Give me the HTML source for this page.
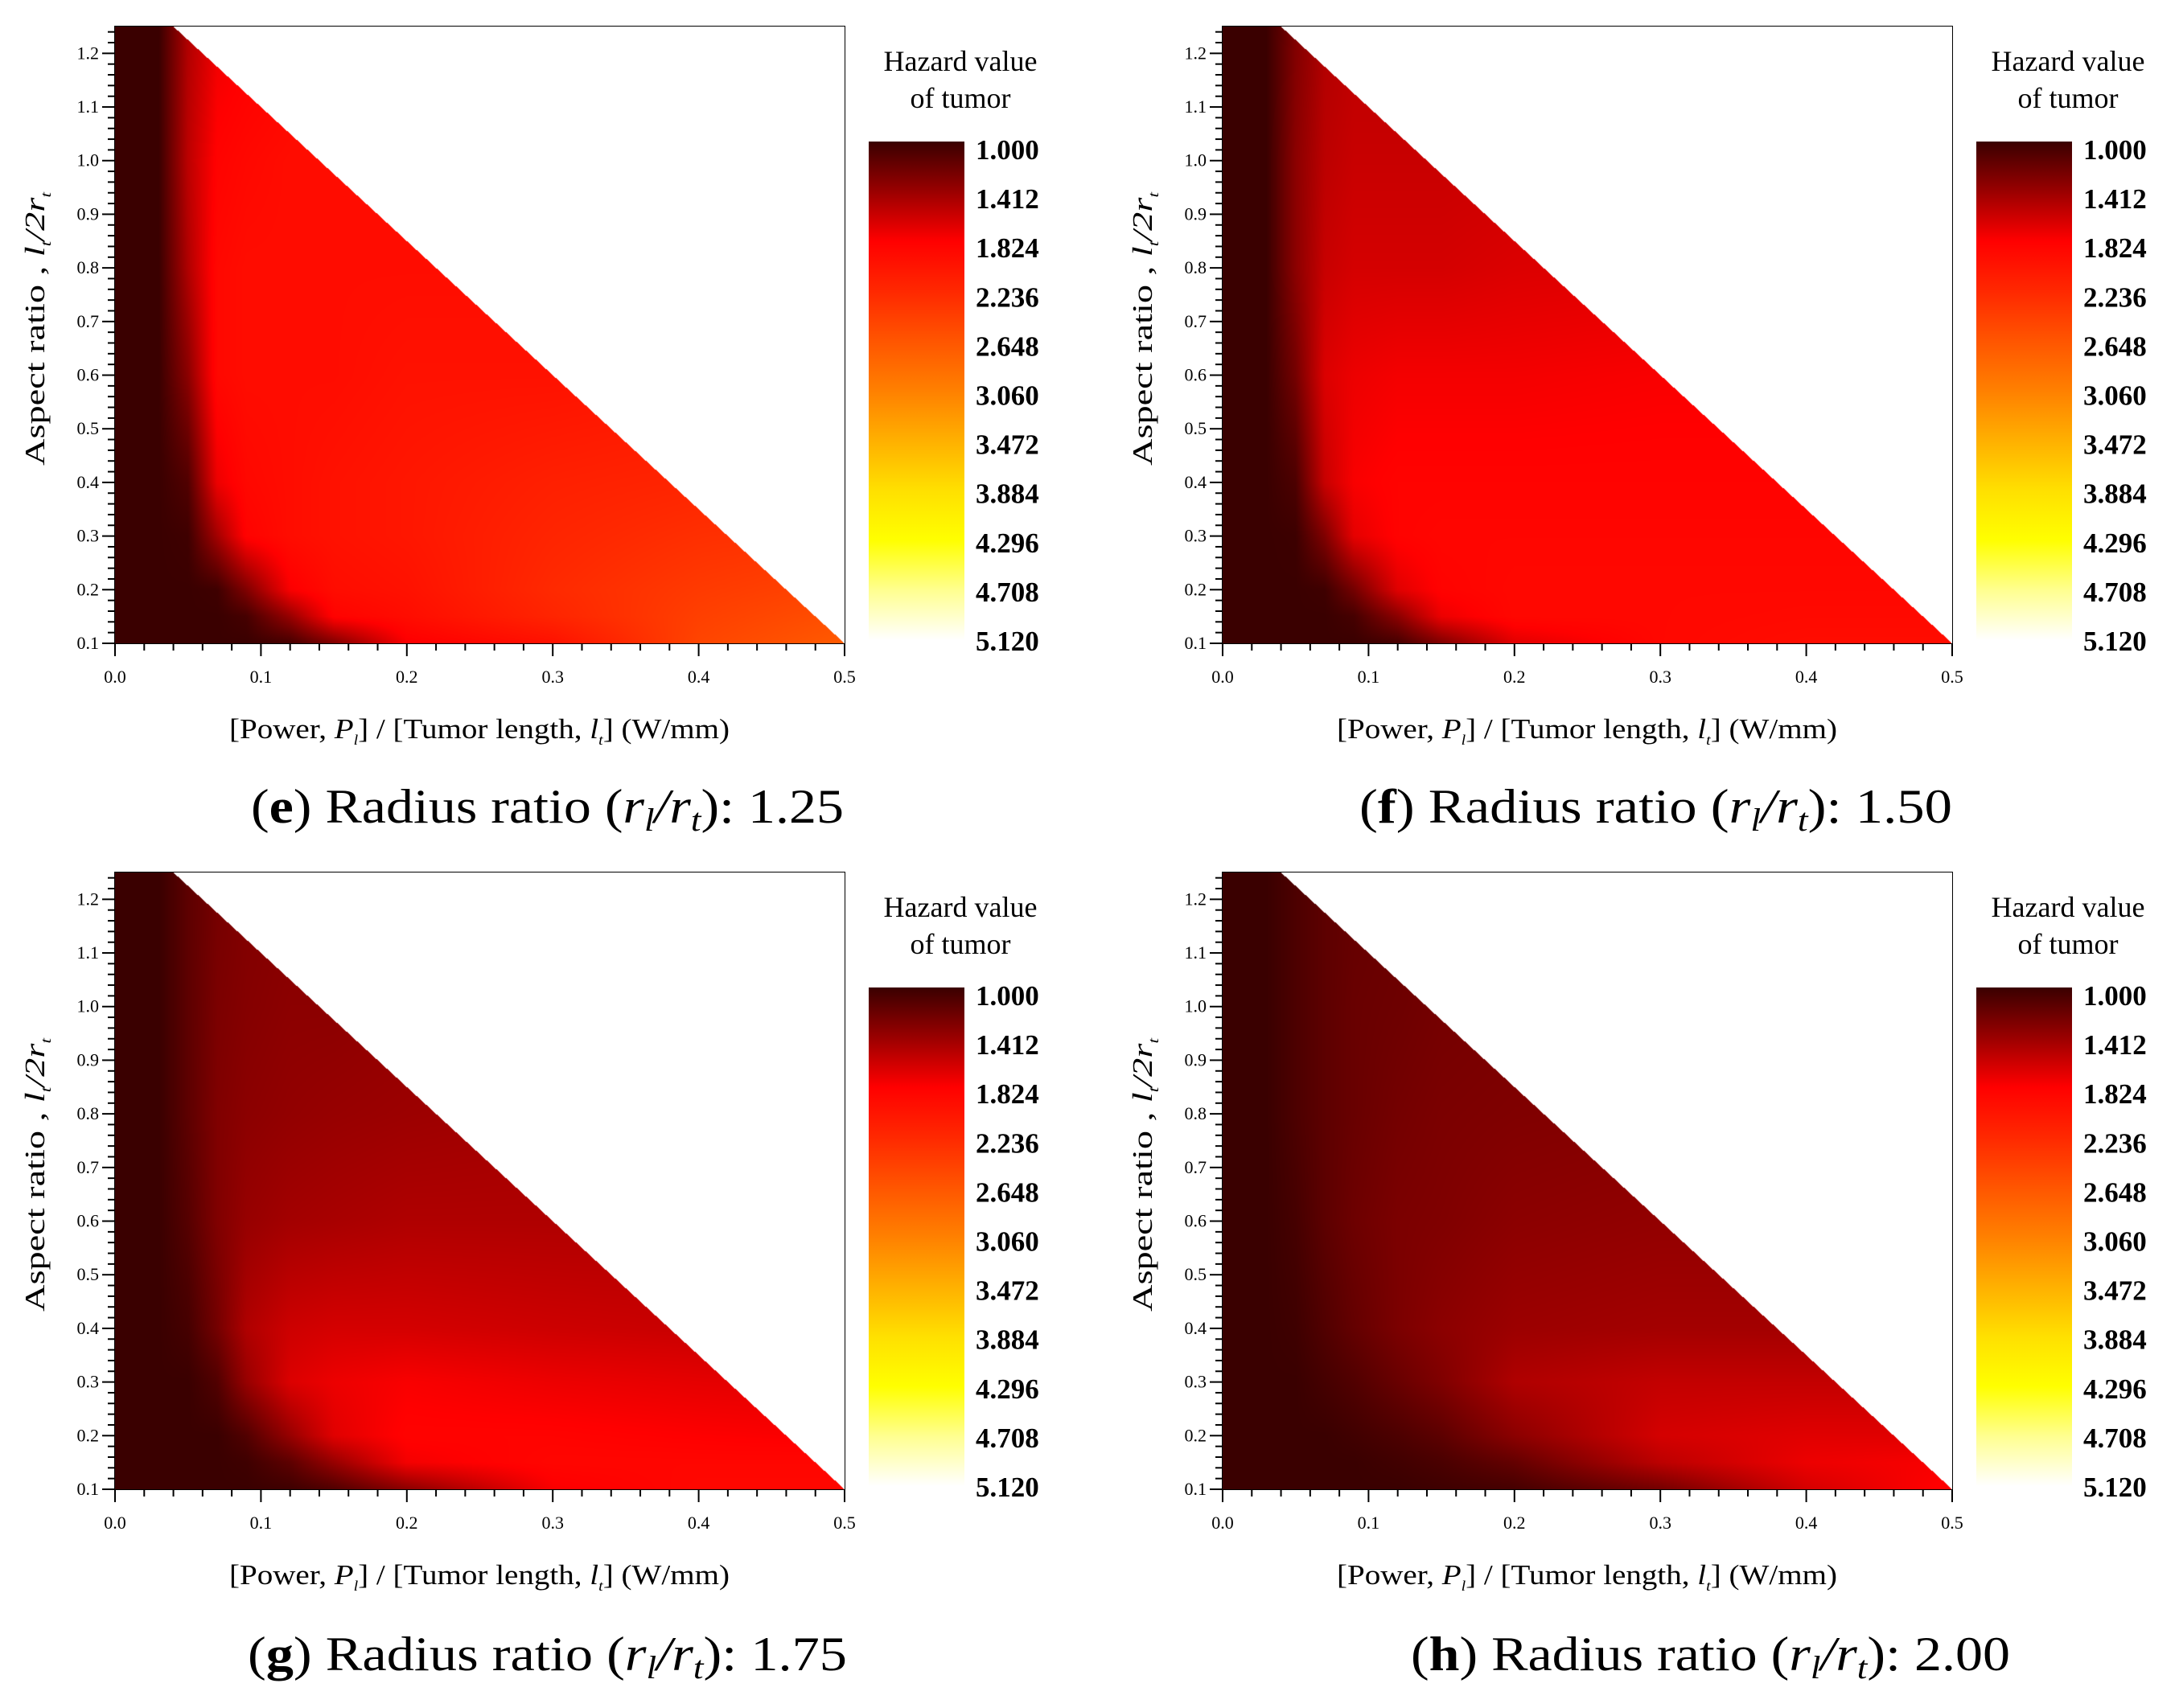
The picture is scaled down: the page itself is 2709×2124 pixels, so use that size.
<!DOCTYPE html>
<html><head><meta charset="utf-8">
<style>
html,body{margin:0;padding:0;background:#fff;}
body{width:2709px;height:2124px;position:relative;overflow:hidden;font-family:"Liberation Serif",serif;}
canvas{position:absolute;}
svg{position:absolute;left:0;top:0;}
</style></head>
<body>
<svg id="svg" width="2709" height="2124" xmlns="http://www.w3.org/2000/svg"></svg>
<script>
// ---------- data ----------
const xGrid = [0, 0.03, 0.05, 0.07, 0.09, 0.12, 0.15, 0.2, 0.3, 0.4, 0.5];
const yGrid = [0.1, 0.15, 0.2, 0.3, 0.4, 0.6, 0.8, 1.0, 1.25];
const hazardE = [
 [1,1,1,1,1,1.05,1.3,1.8,2.0,2.5,2.7],
 [1,1,1,1,1.05,1.4,1.85,1.95,2.2,2.45,2.6],
 [1,1,1,1.02,1.3,1.8,1.95,2,2.25,2.4,2.5],
 [1,1,1.02,1.45,1.85,1.95,2,2.05,2.2,2.3,2.35],
 [1,1,1.1,1.75,1.9,1.95,2,2.05,2.15,2.2,2.25],
 [1,1,1.35,1.9,1.95,1.95,1.95,2,2,2.05,2.1],
 [1,1,1.5,1.9,1.95,1.95,1.95,1.95,1.95,2,2],
 [1,1,1.55,1.85,1.9,1.95,1.95,1.95,1.95,1.95,1.95],
 [1,1,1.5,1.75,1.8,1.85,1.9,1.9,1.9,1.9,1.9]];
const hazardF = [
 [1,1,1,1,1,1.05,1.3,1.7,1.9,1.95,1.95],
 [1,1,1,1,1.05,1.35,1.75,1.9,1.9,1.92,1.92],
 [1,1,1,1.02,1.25,1.7,1.85,1.9,1.9,1.9,1.9],
 [1,1,1.01,1.3,1.72,1.85,1.88,1.88,1.88,1.88,1.88],
 [1,1,1.08,1.6,1.8,1.85,1.85,1.85,1.85,1.85,1.85],
 [1,1,1.25,1.68,1.75,1.78,1.78,1.78,1.8,1.8,1.8],
 [1,1,1.35,1.6,1.65,1.65,1.65,1.68,1.7,1.7,1.7],
 [1,1,1.35,1.55,1.6,1.6,1.6,1.62,1.65,1.65,1.65],
 [1,1,1.3,1.5,1.55,1.55,1.55,1.6,1.6,1.6,1.6]];
const hazardG = [
 [1,1,1,1,1,1.02,1.1,1.35,1.8,1.9,1.9],
 [1,1,1,1,1.02,1.15,1.4,1.78,1.88,1.88,1.88],
 [1,1,1,1,1.1,1.4,1.7,1.85,1.85,1.82,1.8],
 [1,1,1,1.1,1.4,1.68,1.75,1.8,1.75,1.72,1.7],
 [1,1,1.05,1.25,1.5,1.62,1.65,1.65,1.62,1.6,1.6],
 [1,1,1.12,1.3,1.4,1.45,1.47,1.5,1.5,1.5,1.5],
 [1,1,1.15,1.3,1.35,1.38,1.4,1.42,1.45,1.45,1.45],
 [1,1,1.15,1.28,1.32,1.35,1.35,1.38,1.4,1.4,1.4],
 [1,1,1.15,1.25,1.3,1.32,1.33,1.35,1.38,1.38,1.38]];
const hazardH = [
 [1,1,1,1,1,1,1.02,1.05,1.25,1.65,1.85],
 [1,1,1,1,1,1.03,1.07,1.18,1.55,1.75,1.8],
 [1,1,1,1,1.03,1.08,1.15,1.35,1.65,1.7,1.7],
 [1,1,1,1.05,1.1,1.2,1.3,1.5,1.58,1.58,1.58],
 [1,1,1.02,1.1,1.18,1.28,1.35,1.42,1.45,1.45,1.45],
 [1,1,1.05,1.15,1.22,1.28,1.3,1.35,1.38,1.38,1.38],
 [1,1,1.08,1.15,1.2,1.25,1.28,1.3,1.32,1.32,1.32],
 [1,1,1.08,1.15,1.2,1.22,1.25,1.27,1.3,1.3,1.3],
 [1,1,1.08,1.15,1.18,1.2,1.22,1.25,1.28,1.28,1.28]];
const colorbarTicks = ["1.000","1.412","1.824","2.236","2.648","3.060","3.472","3.884","4.296","4.708","5.120"];
const xTicks = [0,0.1,0.2,0.3,0.4,0.5];
const yTicks = [0.1,0.2,0.3,0.4,0.5,0.6,0.7,0.8,0.9,1.0,1.1,1.2];
const panelLetters = ["e","f","g","h"];
const panelRatios = ["1.25","1.50","1.75","2.00"];

// colour map
const cmapVals = [1.0,1.412,1.824,2.236,2.648,3.06,3.472,3.884,4.296,4.708,5.12];
const cmapCols = [[58,0,0],[154,0,0],[255,0,0],[255,40,0],[255,85,0],[255,128,0],[255,176,0],[255,224,0],[255,255,0],[255,255,144],[255,255,255]];
function cmap(v){
  if(v<=cmapVals[0]) return cmapCols[0];
  for(let i=1;i<cmapVals.length;i++){
    if(v<=cmapVals[i]){const t=(v-cmapVals[i-1])/(cmapVals[i]-cmapVals[i-1]);const a=cmapCols[i-1],b=cmapCols[i];return [a[0]+(b[0]-a[0])*t,a[1]+(b[1]-a[1])*t,a[2]+(b[2]-a[2])*t];}
  }
  return cmapCols[cmapCols.length-1];
}
function locate(arr,v){
  for(let i=0;i<arr.length-1;i++){ if(v<=arr[i+1]) return [i,(v-arr[i])/(arr[i+1]-arr[i])]; }
  return [arr.length-2,1];
}

const SVGNS="http://www.w3.org/2000/svg";
const svg=document.getElementById('svg');
function el(tag,attrs,parent){const e=document.createElementNS(SVGNS,tag);for(const k in attrs)e.setAttribute(k,attrs[k]);(parent||svg).appendChild(e);return e;}

const PW=907, PH=767;
const X0=[143,1520,143,1520], Y0=[33,33,1085,1085];
const subX=[312,1690,308,1754], subW=[737,737,745,745], subY=[1023,1023,2077,2077];
const data=[hazardE,hazardF,hazardG,hazardH];
const XMIN=0,XMAX=0.5,YMIN=0.1,YMAX=1.25;

for(let p=0;p<4;p++){
  const ox=X0[p], oy=Y0[p];
  const sx=v=>ox+(v-XMIN)/(XMAX-XMIN)*PW;
  const sy=v=>oy+PH-(v-YMIN)/(YMAX-YMIN)*PH;
  const c=document.createElement('canvas');
  c.width=PW;c.height=PH;c.style.left=ox+'px';c.style.top=oy+'px';
  
  
  document.body.appendChild(c);
  const ctx=c.getContext('2d');
  const img=ctx.createImageData(PW,PH);
  const g=data[p];
  for(let j=0;j<PH;j++){
    const yv=YMAX-(j+0.5)/PH*(YMAX-YMIN);
    const [yi,ty]=locate(yGrid,yv);
    const xLim=0.04+(YMAX-yv)/(YMAX-YMIN)*(0.5-0.04);
    for(let i=0;i<PW;i++){
      const xv=(i+0.5)/PW*(XMAX-XMIN);
      const k=(j*PW+i)*4;
      if(xv>xLim){img.data[k]=255;img.data[k+1]=255;img.data[k+2]=255;img.data[k+3]=255;continue;}
      const [xi,tx]=locate(xGrid,xv);
      const v=(g[yi][xi]*(1-tx)+g[yi][xi+1]*tx)*(1-ty)+(g[yi+1][xi]*(1-tx)+g[yi+1][xi+1]*tx)*ty;
      const col=cmap(v);
      img.data[k]=col[0];img.data[k+1]=col[1];img.data[k+2]=col[2];img.data[k+3]=255;
    }
  }
  ctx.putImageData(img,0,0);

  const grp=el('g',{});
  
  
  const fr=el('rect',{x:ox,y:oy,width:PW,height:PH,fill:'none',stroke:'#000','stroke-width':2},grp);
  
  
  for(let t=0;t<=25;t++){
    const v=t*0.02, x=sx(v), major=(t%5===0), L=major?16:9;
    el('line',{x1:x,y1:oy+PH,x2:x,y2:oy+PH+L,stroke:'#000','stroke-width':2},grp);
    el('line',{x1:x,y1:oy,x2:x,y2:oy+L,stroke:'#000','stroke-width':2},grp);
  }
  xTicks.forEach(v=>{
    const t=el('text',{x:sx(v),y:oy+PH+49,'font-size':22,'text-anchor':'middle'},grp);
    t.textContent=v.toFixed(1);
    
    
  });
  for(let t=0;t<=57;t++){
    const v=0.1+t*0.02; if(v>YMAX+1e-9)break;
    const y=sy(v), major=(Math.round(v*100)%10===0), L=major?16:9;
    el('line',{x1:ox-L,y1:y,x2:ox,y2:y,stroke:'#000','stroke-width':2},grp);
    el('line',{x1:ox+PW-L,y1:y,x2:ox+PW,y2:y,stroke:'#000','stroke-width':2},grp);
  }
  yTicks.forEach(v=>{
    const t=el('text',{x:ox-20,y:sy(v)+7,'font-size':22,'text-anchor':'end'},grp);
    t.textContent=v.toFixed(1);
    
    
  });
  const xt=el('text',{x:ox+142,y:oy+PH+118,'font-size':35,textLength:622,lengthAdjust:'spacingAndGlyphs'},grp);
  xt.innerHTML='[Power, <tspan font-style="italic">P</tspan><tspan font-size="18" dy="8" font-style="italic">l</tspan><tspan dy="-8">] / [Tumor length, </tspan><tspan font-style="italic">l</tspan><tspan font-size="18" dy="8" font-style="italic">t</tspan><tspan dy="-8">]  (W/mm)</tspan>';
  
  
  const yt=el('text',{x:0,y:0,'font-size':35,textLength:340,lengthAdjust:'spacingAndGlyphs',transform:`translate(${ox-88},${oy+546}) rotate(-90)`},grp);
  yt.innerHTML='Aspect ratio , <tspan font-style="italic">l</tspan><tspan font-size="18" dy="8" font-style="italic">t</tspan><tspan dy="-8" font-style="italic">/2r</tspan><tspan font-size="18" dy="8" font-style="italic">t</tspan>';
  
  
  const cbx=ox+937, cby=oy+143, cbw=119, cbh=620;
  const gid='cbg'+p;
  const defs=el('defs',{},grp);
  const lg=el('linearGradient',{id:gid,x1:0,y1:0,x2:0,y2:1},defs);
  cmapVals.forEach((v,i)=>{el('stop',{offset:(v-1)/(5.12-1),'stop-color':`rgb(${cmapCols[i].join(',')})`},lg);});
  const cb=el('rect',{x:cbx,y:cby,width:cbw,height:cbh,fill:`url(#${gid})`},grp);
  
  
  colorbarTicks.forEach((s,i)=>{
    const t=el('text',{x:ox+1070,y:oy+152+i*61.1+13,'font-size':35,'font-weight':'bold'},grp);
    t.textContent=s;
    
    
  });
  const ct1=el('text',{x:ox+1051,y:oy+55,'font-size':36,'text-anchor':'middle'},grp);
  ct1.textContent='Hazard value';
  
  
  const ct2=el('text',{x:ox+1051,y:oy+101,'font-size':36,'text-anchor':'middle'},grp);
  ct2.textContent='of tumor';
  
  
  const st=el('text',{x:subX[p],y:subY[p],'font-size':60,textLength:subW[p],lengthAdjust:'spacingAndGlyphs'},grp);
  st.innerHTML='(<tspan font-weight="bold">'+panelLetters[p]+'</tspan>) Radius ratio (<tspan font-style="italic">r</tspan><tspan font-style="italic" font-size="40" dy="10">l</tspan><tspan dy="-10" font-style="italic">/r</tspan><tspan font-style="italic" font-size="40" dy="10">t</tspan><tspan dy="-10">): '+panelRatios[p]+'</tspan>';
  
  
}
</script>
</body></html>
